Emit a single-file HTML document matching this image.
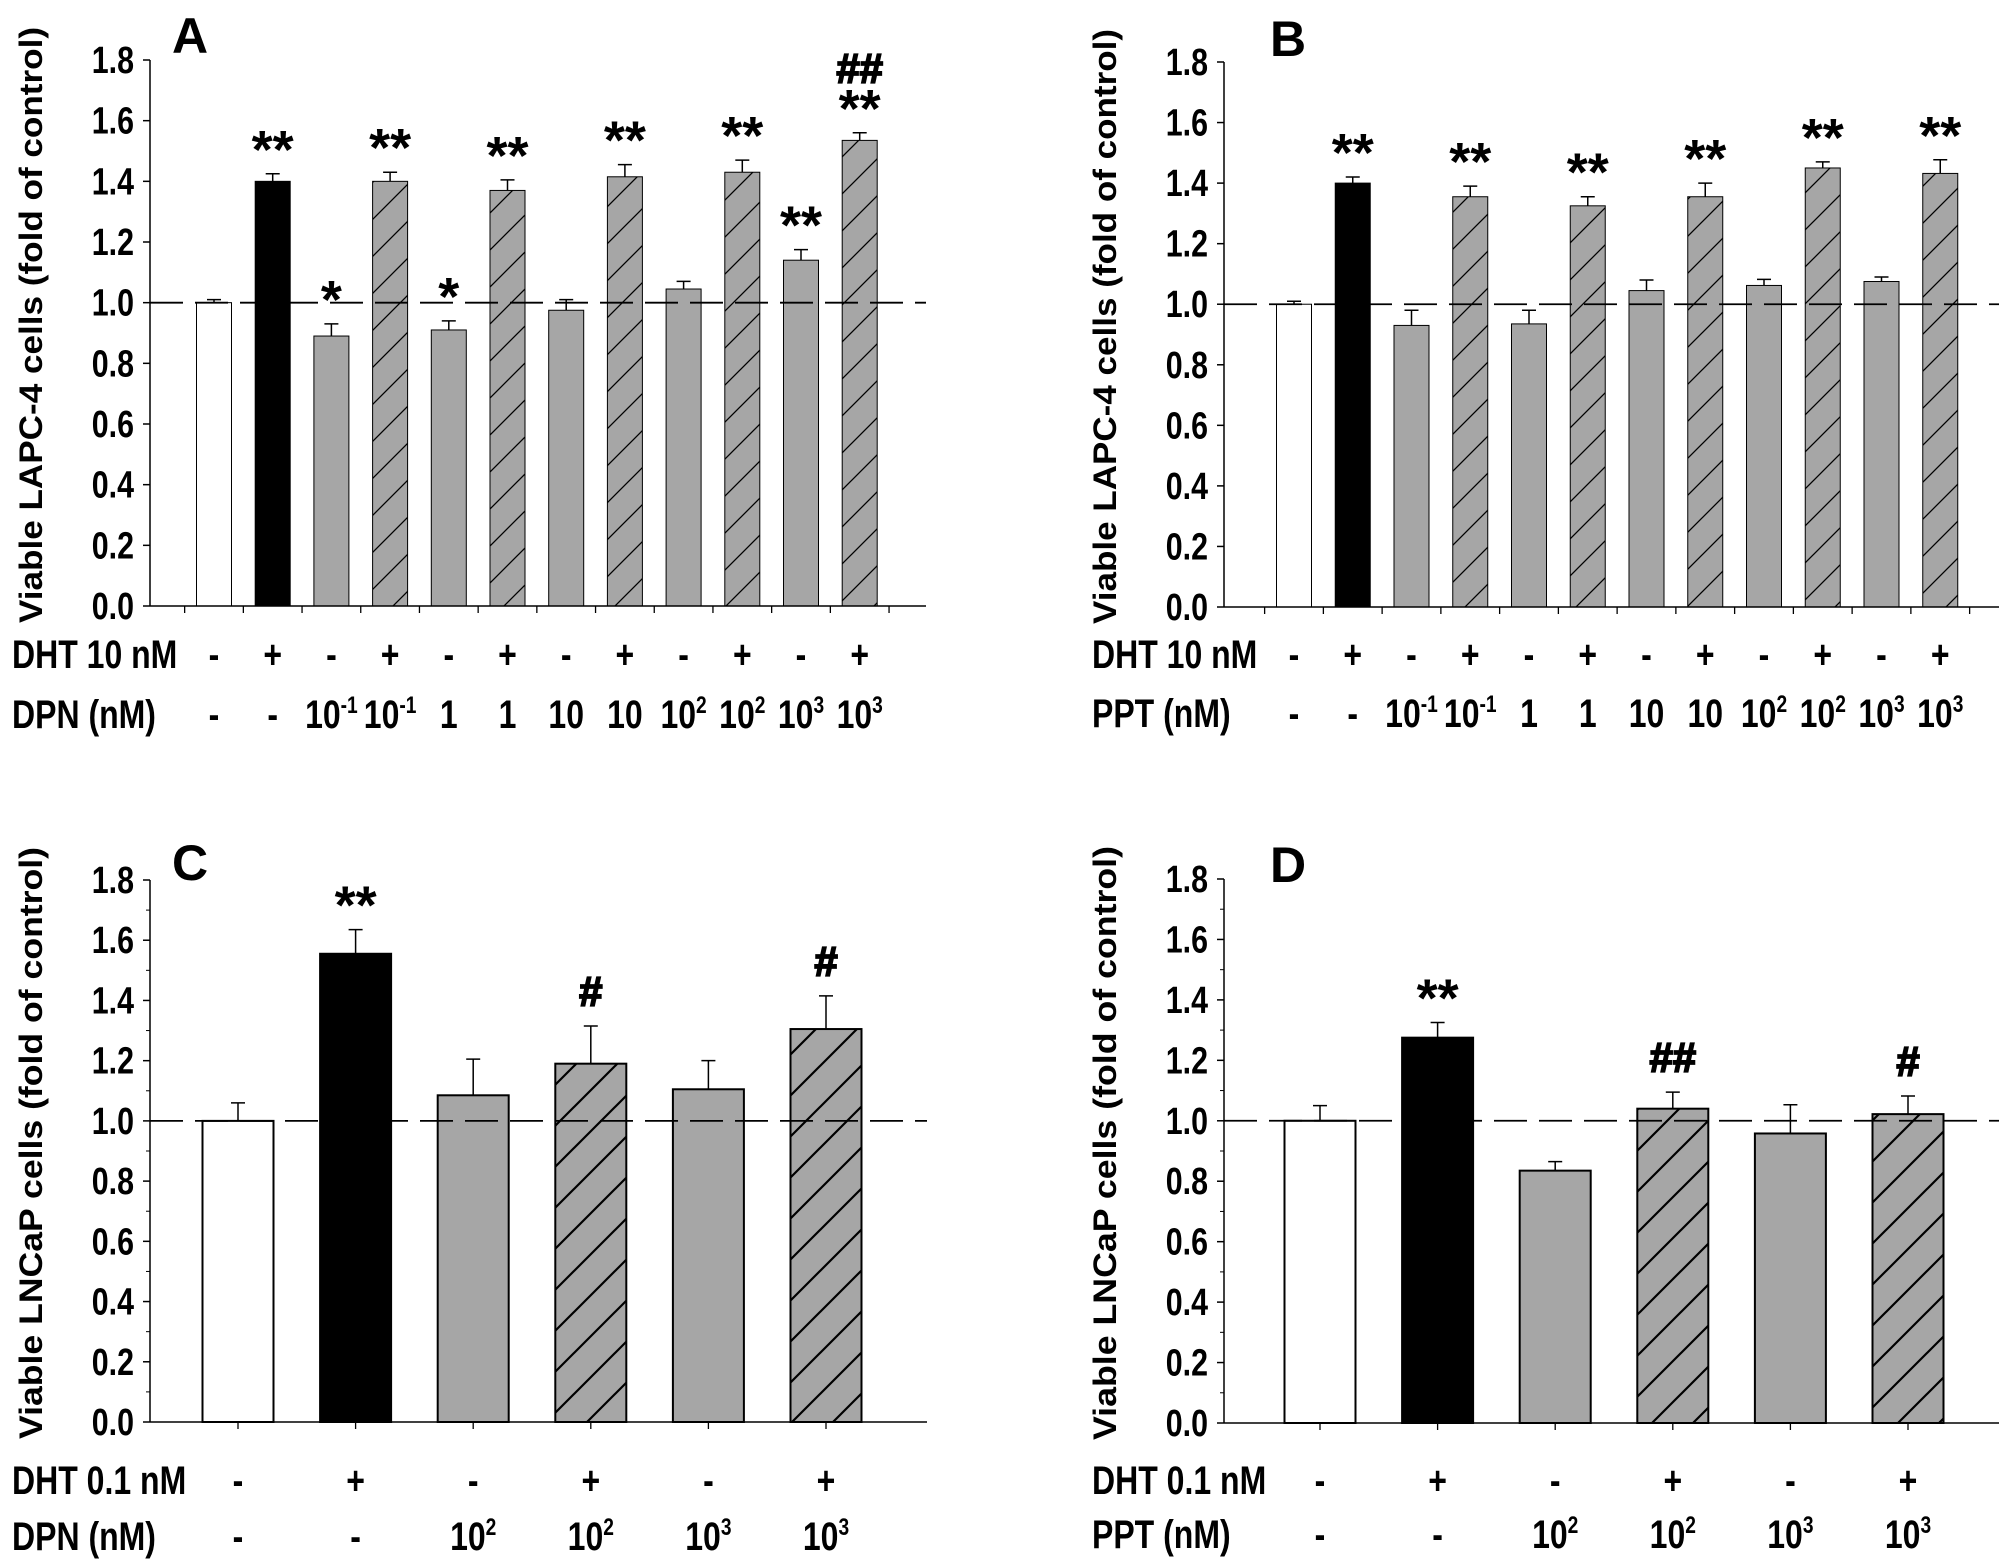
<!DOCTYPE html>
<html><head><meta charset="utf-8"><style>
html,body{margin:0;padding:0;background:#fff}
svg{display:block}
text{font-family:"Liberation Sans",sans-serif;font-weight:bold;fill:#000}
</style></head><body>
<svg id="fig" width="2008" height="1565" viewBox="0 0 2008 1565" xmlns="http://www.w3.org/2000/svg">
<defs>
<pattern id="hatchA" patternUnits="userSpaceOnUse" width="37" height="37">
<rect width="37" height="37" fill="#a6a6a6"/>
<path d="M0,37 L37,0 M-5,5 L5,-5 M32,42 L42,32" stroke="#000" stroke-width="1.3"/>
</pattern>
<pattern id="hatchC" patternUnits="userSpaceOnUse" width="41" height="41">
<rect width="41" height="41" fill="#a6a6a6"/>
<path d="M0,41 L41,0 M-5,5 L5,-5 M36,46 L46,36" stroke="#000" stroke-width="2.2"/>
</pattern>
</defs>
</svg>
<script>
// Panel A data
const catsA = ["c","dht","dpn-0.1","dpn-0.1+dht","dpn-1","dpn-1+dht","dpn-10","dpn-10+dht","dpn-100","dpn-100+dht","dpn-1000","dpn-1000+dht"];
const valsA = [1.0,1.40,0.89,1.40,0.91,1.37,0.975,1.415,1.045,1.43,1.14,1.535];
const errsA = [0.01,0.025,0.04,0.03,0.03,0.035,0.035,0.04,0.025,0.04,0.035,0.025];
const annA = ["","**","*","**","*","**","","**","","**","**","##|**"];
// Panel B data
const valsB = [1.0,1.40,0.93,1.355,0.935,1.325,1.045,1.355,1.062,1.45,1.075,1.432];
const errsB = [0.01,0.02,0.05,0.035,0.045,0.03,0.035,0.045,0.02,0.02,0.015,0.045];
const annB = ["","**","","**","","**","","**","","**","","**"];
// Panel C data
const valsC = [1.0,1.555,1.085,1.19,1.105,1.305];
const errsC = [0.06,0.08,0.12,0.125,0.095,0.11];
const annC = ["","**","","#","","#"];
// Panel D data
const valsD = [1.0,1.275,0.835,1.04,0.958,1.022];
const errsD = [0.05,0.05,0.03,0.055,0.095,0.06];
const annD = ["","**","","##","","#"];
// Types & labels
const kinds12 = ["white","black","gray","hatch","gray","hatch","gray","hatch","gray","hatch","gray","hatch"];
const kinds6 = ["white","black","gray","hatch","gray","hatch"];
const dht12 = ["-","+","-","+","-","+","-","+","-","+","-","+"];
const conc12 = [["-",""],["-",""],["10","-1"],["10","-1"],["1",""],["1",""],["10",""],["10",""],["10","2"],["10","2"],["10","3"],["10","3"]];
const dht6 = ["-","+","-","+","-","+"];
const conc6 = [["-",""],["-",""],["10","2"],["10","2"],["10","3"],["10","3"]];
const yTicks = [0,0.2,0.4,0.6,0.8,1.0,1.2,1.4,1.6,1.8];

const NS="http://www.w3.org/2000/svg";
const svg=document.getElementById('fig');
function mk(tag,attrs,parent){const e=document.createElementNS(NS,tag);for(const k in attrs)e.setAttribute(k,attrs[k]);(parent||svg).appendChild(e);return e;}
const SX=0.8;
function ctext(x,y,anchor,size,parent){return mk('text',{x:0,y:0,transform:`translate(${x},${y}) scale(${SX},1)`,"text-anchor":anchor,"font-size":size},parent);}

function panel(o){
  const g=mk('g',{});
  
  
  const y=v=>o.y0-(o.y0-o.y18)*v/1.8;
  const x=i=>o.x1+i*o.dx;
  o.vals.forEach((v,i)=>{
    const k=o.kinds[i];
    const fill=k==="white"?"#fff":k==="black"?"#000":k==="gray"?"#a6a6a6":"url(#"+o.hatch+")";
    const r=mk('rect',{x:x(i)-o.bw/2,y:y(v),width:o.bw,height:o.y0-y(v),fill:fill,stroke:"#000","stroke-width":o.sw},g);
    
    
    const et=y(v+o.errs[i]);
    const e=mk('path',{d:`M${x(i)},${y(v)} V${et} M${x(i)-7},${et} H${x(i)+7}`,stroke:"#000","stroke-width":1.5,fill:"none"},g);
    
    
    const a=o.ann[i];
    if(a){
      const parts=a.split("|");
      let base=et-(parts[parts.length-1].includes("#")?20:6);
      for(let p=parts.length-1;p>=0;p--){
        const s=parts[p];
        const isH=s.includes("#");
        const t=mk('text',{x:x(i),y:base,"text-anchor":"middle","font-size":isH?42:54,stroke:isH?"#000":"none","stroke-width":isH?1.8:0},g);
        t.textContent=s;
        
        
        base-= 44;
      }
    }
  });
  const dl=mk('line',{x1:o.ax,x2:o.xend,y1:y(1),y2:y(1),stroke:"#000","stroke-width":1.8,"stroke-dasharray":"33 12"},g);
  
  
  const ya=mk('line',{x1:o.ax,x2:o.ax,y1:o.y18,y2:o.y0,stroke:"#000","stroke-width":1.5},g);
  
  
  const xa=mk('line',{x1:o.ax,x2:o.xend,y1:o.y0,y2:o.y0,stroke:"#000","stroke-width":1.5},g);
  
  
  yTicks.forEach(v=>{
    mk('line',{x1:o.ax-7,x2:o.ax,y1:y(v),y2:y(v),stroke:"#000","stroke-width":1.5},g);
    const t=ctext(o.ax-16,y(v)+13,"end",38,g);
    t.textContent=v.toFixed(1);
    
    
    if(o.minor && v<1.8) mk('line',{x1:o.ax-4,x2:o.ax,y1:y(v+0.1),y2:y(v+0.1),stroke:"#000","stroke-width":1},g);
  });
  for(let i=-(o.lead?0.5:0);i<o.vals.length+0.6;i+=1){
    const xx=x(i);if(xx<o.ax+2||xx>o.xend)continue;
    mk('line',{x1:xx,x2:xx,y1:o.y0,y2:o.y0+7,stroke:"#000","stroke-width":1.3},g);
  }
  const cy=(o.y0+o.y18)/2-8;
  const yt=mk('text',{x:0,y:0,transform:`translate(${o.tx},${cy}) rotate(-90)`,"text-anchor":"middle","font-size":32,textLength:o.y0-o.y18+50,lengthAdjust:"spacingAndGlyphs"},g);
  yt.textContent=o.ytitle;
  
  
  const L=mk('text',{x:o.lx,y:o.ly,"font-size":50},g);
  L.textContent=o.letter;
  
  
  const r1=ctext(o.rx,o.r1,"start",40,g);r1.textContent=o.row1;
  
  
  const r2=ctext(o.rx,o.r2,"start",40,g);r2.textContent=o.row2;
  
  
  o.dht.forEach((s,i)=>{
    const t=ctext(x(i),o.r1,"middle",40,g);t.textContent=s;
    
    
  });
  o.conc.forEach((c,i)=>{
    const t=ctext(x(i),o.r2,"middle",40,g);
    
    
    const a=mk('tspan',{},t);a.textContent=c[0];
    if(c[1]){const b=mk('tspan',{dy:-15,"font-size":24},t);b.textContent=c[1];}
  });
}
panel({letter:"A",vals:valsA,errs:errsA,ann:annA,kinds:kinds12,dht:dht12,conc:conc12,hatch:"hatchA",
 ax:150,y0:606,y18:60,x1:214,dx:58.7,bw:35,sw:1,xend:926,minor:false,lead:true,
 tx:42,ytitle:"Viable LAPC-4 cells (fold of control)",lx:172,ly:53,rx:12,row1:"DHT 10 nM",row2:"DPN (nM)",r1:668,r2:728});
panel({letter:"B",vals:valsB,errs:errsB,ann:annB,kinds:kinds12,dht:dht12,conc:conc12,hatch:"hatchA",
 ax:1224,y0:607,y18:62,x1:1294,dx:58.75,bw:35,sw:1,xend:1999,minor:false,lead:true,
 tx:1116,ytitle:"Viable LAPC-4 cells (fold of control)",lx:1270,ly:56,rx:1092,row1:"DHT 10 nM",row2:"PPT (nM)",r1:668,r2:727});
panel({letter:"C",vals:valsC,errs:errsC,ann:annC,kinds:kinds6,dht:dht6,conc:conc6,hatch:"hatchC",
 ax:150,y0:1422,y18:880,x1:238,dx:117.6,bw:71,sw:2,xend:927,minor:true,lead:false,
 tx:42,ytitle:"Viable LNCaP cells (fold of control)",lx:172,ly:880,rx:12,row1:"DHT 0.1 nM",row2:"DPN (nM)",r1:1494,r2:1550});
panel({letter:"D",vals:valsD,errs:errsD,ann:annD,kinds:kinds6,dht:dht6,conc:conc6,hatch:"hatchC",
 ax:1224,y0:1423,y18:879,x1:1320,dx:117.6,bw:71,sw:2,xend:1999,minor:true,lead:false,
 tx:1116,ytitle:"Viable LNCaP cells (fold of control)",lx:1270,ly:882,rx:1092,row1:"DHT 0.1 nM",row2:"PPT (nM)",r1:1494,r2:1548});
</script>
</body></html>
